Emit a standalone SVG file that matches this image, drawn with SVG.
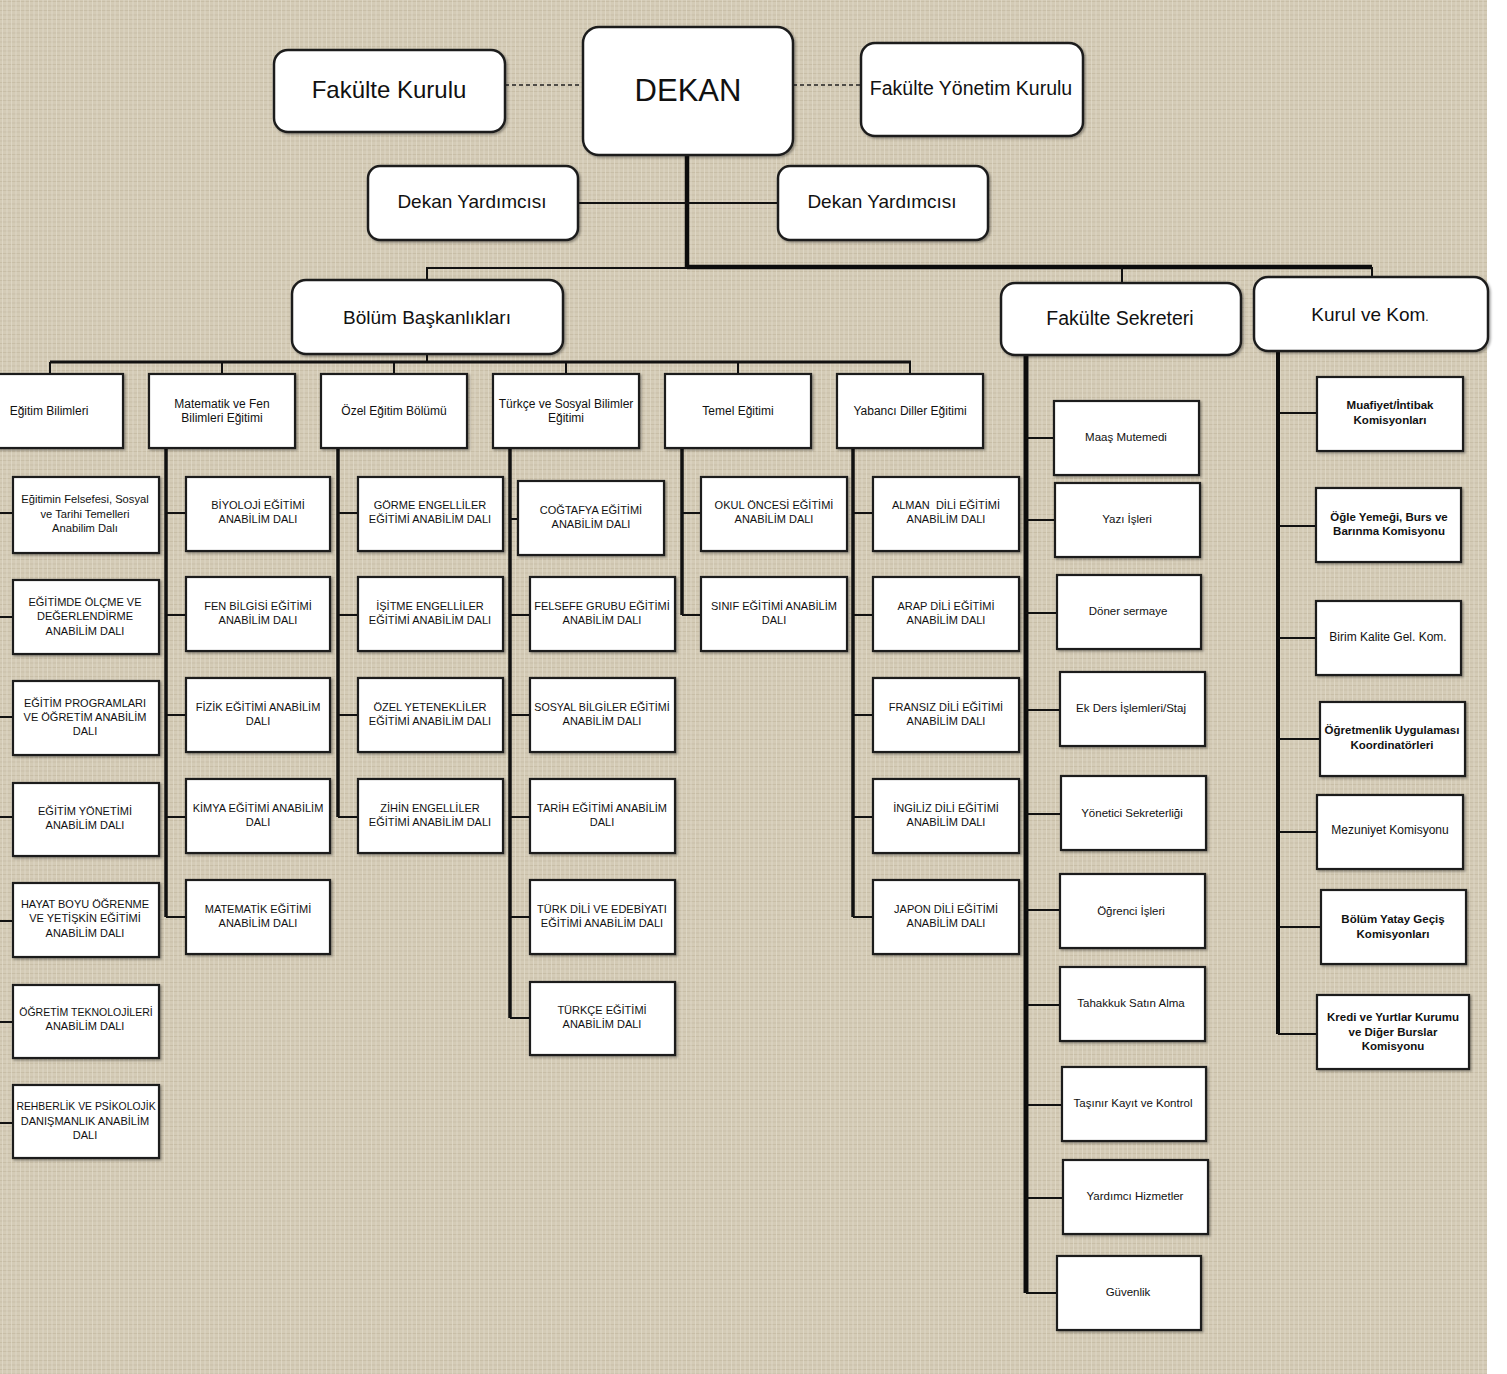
<svg xmlns="http://www.w3.org/2000/svg" width="1507" height="1374" viewBox="0 0 1507 1374">
<defs>
<pattern id="tex" width="9" height="9" patternUnits="userSpaceOnUse">
<rect width="9" height="9" fill="#d4cbb6"/>
<path d="M0 1.5H9M0 6H9" stroke="#bfb59d" stroke-width="1" opacity="0.6"/>
<path d="M2.5 0V9M7 0V9" stroke="#e4ddcc" stroke-width="1" opacity="0.65"/>
</pattern>
<filter id="sh" x="-10%" y="-10%" width="130%" height="130%">
<feDropShadow dx="1.5" dy="1.5" stdDeviation="1" flood-color="#000" flood-opacity="0.35"/>
</filter>
<style>
.rb{fill:#fff;stroke:#1e1e1e;stroke-width:2.5;filter:url(#sh)}
.bx{fill:#fff;stroke:#1e1e1e;stroke-width:2.2;filter:url(#sh)}
text{font-family:"Liberation Sans",Arial,sans-serif;text-anchor:middle;fill:#111}
.c{font-size:11px}
.h{font-size:12px}
.m{font-size:11.5px}
.b{font-size:11.5px;font-weight:bold}
.n{font-size:12px}
.ln{fill:none;stroke:#111;stroke-width:2}
.tk{fill:none;stroke:#111;stroke-width:3.5}
.th{fill:none;stroke:#0c0c0c;stroke-width:4.5}
.ds{fill:none;stroke:#222;stroke-width:1.5;stroke-dasharray:4 3}
</style>
</defs>
<rect width="1507" height="1374" fill="#fff"/>
<rect width="1487" height="1374" fill="url(#tex)"/>

<g id="connectors">
<path class="ds" d="M505 85H583M793 85H861"/>
<path class="th" d="M687 155V268"/>
<path class="ln" d="M578 203H778"/>
<path class="ln" d="M427 280V268H687"/>
<path class="th" d="M687 267H1372"/>
<path class="ln" d="M1122 267V283M1372 267V277"/>
<path class="ln" d="M427 354V362"/>
<path class="tk" d="M50 362H911" style="stroke-width:3"/>
<path class="ln" d="M50 362V374M222 362V374M394 362V374M566 362V374M738 362V374M910 362V374"/>
<path class="ln" d="M0 513H13M0 617H13M0 717H13M0 817H13M0 921H13M0 1022H13M0 1123H13"/>
<path class="tk" d="M166 448V917"/>
<path class="ln" d="M166 513H186M166 615H186M166 715H186M166 817H186M166 917H186"/>
<path class="tk" d="M338 448V817"/>
<path class="ln" d="M338 513H358M338 615H358M338 715H358M338 817H358"/>
<path class="tk" d="M510 448V1018"/>
<path class="ln" d="M510 519H518M510 615H530M510 715H530M510 817H530M510 917H530M510 1018H530"/>
<path class="tk" d="M682 448V615"/>
<path class="ln" d="M682 513H701M682 615H701"/>
<path class="tk" d="M853 448V917"/>
<path class="ln" d="M853 513H873M853 615H873M853 715H873M853 817H873M853 917H873"/>
<path class="th" d="M1026 355V1293" style="stroke-width:5"/>
<path class="ln" d="M1026 438H1054M1026 520H1055M1026 613H1057M1026 710H1060M1026 814H1061M1026 910H1060M1026 1005H1060M1026 1105H1062M1026 1198H1063M1026 1293H1057"/>
<path class="th" d="M1278 351V1034" style="stroke-width:4"/>
<path class="ln" d="M1278 413H1317M1278 526H1316M1278 638H1316M1278 739H1320M1278 832H1317M1278 927H1321M1278 1034H1317"/>
</g>

<g id="n-fakulte-kurulu"><rect class="rb" x="274" y="50" width="231" height="82" rx="14"/><text x="389" y="98" style="font-size:24px">Fakülte Kurulu</text></g>
<g id="n-dekan"><rect class="rb" x="583" y="27" width="210" height="128" rx="16"/><text x="688" y="101" style="font-size:31px">DEKAN</text></g>
<g id="n-fakulte-yonetim"><rect class="rb" x="861" y="43" width="222" height="93" rx="14"/><text x="971" y="95" style="font-size:19.5px">Fakülte Yönetim Kurulu</text></g>
<g id="n-dekan-yrd-1"><rect class="rb" x="368" y="166" width="210" height="74" rx="12"/><text x="472" y="208" style="font-size:19px">Dekan Yardımcısı</text></g>
<g id="n-dekan-yrd-2"><rect class="rb" x="778" y="166" width="210" height="74" rx="12"/><text x="882" y="208" style="font-size:19px">Dekan Yardımcısı</text></g>
<g id="n-bolum-bask"><rect class="rb" x="292" y="280" width="271" height="74" rx="14"/><text x="427" y="324" style="font-size:19px">Bölüm Başkanlıkları</text></g>
<g id="n-fakulte-sekreteri"><rect class="rb" x="1001" y="283" width="240" height="72" rx="14"/><text x="1120" y="325" style="font-size:19.5px">Fakülte Sekreteri</text></g>
<g id="n-kurul-kom"><rect class="rb" x="1254" y="277" width="234" height="74" rx="14"/><text x="1370" y="321" style="font-size:19px">Kurul ve Kom<tspan style="font-size:12px">.</tspan></text></g>

<g id="d-egitim-bilimleri"><rect class="bx" x="-2" y="374" width="125" height="74"/><text class="h" x="49" y="415">Eğitim Bilimleri</text></g>
<g id="d-matematik-fen"><rect class="bx" x="149" y="374" width="146" height="74"/><text class="h" x="222" y="408">Matematik ve Fen</text><text class="h" x="222" y="422">Bilimleri Eğitimi</text></g>
<g id="d-ozel-egitim"><rect class="bx" x="321" y="374" width="146" height="74"/><text class="h" x="394" y="415">Özel Eğitim Bölümü</text></g>
<g id="d-turkce-sosyal"><rect class="bx" x="493" y="374" width="146" height="74"/><text class="h" x="566" y="408">Türkçe ve Sosyal Bilimler</text><text class="h" x="566" y="422">Eğitimi</text></g>
<g id="d-temel"><rect class="bx" x="665" y="374" width="146" height="74"/><text class="h" x="738" y="415">Temel Eğitimi</text></g>
<g id="d-yabanci-diller"><rect class="bx" x="837" y="374" width="146" height="74"/><text class="h" x="910" y="415">Yabancı Diller Eğitimi</text></g>

<g id="eb-1"><rect class="bx" x="13" y="477" width="146" height="76"/><text class="m" x="85" y="503" style="font-size:11.2px">Eğitimin Felsefesi, Sosyal</text><text class="m" x="85" y="518" style="font-size:11.2px">ve Tarihi Temelleri</text><text class="m" x="85" y="532" style="font-size:11.2px">Anabilim Dalı</text></g>
<g id="eb-2"><rect class="bx" x="13" y="580" width="146" height="74"/><text class="c" x="85" y="606">EĞİTİMDE ÖLÇME VE</text><text class="c" x="85" y="620">DEĞERLENDİRME</text><text class="c" x="85" y="635">ANABİLİM DALI</text></g>
<g id="eb-3"><rect class="bx" x="13" y="681" width="146" height="74"/><text class="c" x="85" y="707">EĞİTİM PROGRAMLARI</text><text class="c" x="85" y="721">VE ÖĞRETİM ANABİLİM</text><text class="c" x="85" y="735">DALI</text></g>
<g id="eb-4"><rect class="bx" x="13" y="783" width="146" height="73"/><text class="c" x="85" y="815">EĞİTİM YÖNETİMİ</text><text class="c" x="85" y="829">ANABİLİM DALI</text></g>
<g id="eb-5"><rect class="bx" x="13" y="883" width="146" height="74"/><text class="c" x="85" y="908">HAYAT BOYU ÖĞRENME</text><text class="c" x="85" y="922">VE YETİŞKİN EĞİTİMİ</text><text class="c" x="85" y="937">ANABİLİM DALI</text></g>
<g id="eb-6"><rect class="bx" x="13" y="985" width="146" height="73"/><text class="c" x="86" y="1016" style="font-size:10.5px">ÖĞRETİM TEKNOLOJİLERİ</text><text class="c" x="85" y="1030">ANABİLİM DALI</text></g>
<g id="eb-7"><rect class="bx" x="13" y="1085" width="146" height="73"/><text class="c" x="86" y="1110" style="font-size:10.4px">REHBERLİK VE PSİKOLOJİK</text><text class="c" x="85" y="1125">DANIŞMANLIK ANABİLİM</text><text class="c" x="85" y="1139">DALI</text></g>

<g id="mf-1"><rect class="bx" x="186" y="477" width="144" height="74"/><text class="c" x="258" y="509">BİYOLOJİ EĞİTİMİ</text><text class="c" x="258" y="523">ANABİLİM DALI</text></g>
<g id="mf-2"><rect class="bx" x="186" y="577" width="144" height="74"/><text class="c" x="258" y="610">FEN BİLGİSİ EĞİTİMİ</text><text class="c" x="258" y="624">ANABİLİM DALI</text></g>
<g id="mf-3"><rect class="bx" x="186" y="678" width="144" height="74"/><text class="c" x="258" y="711">FİZİK EĞİTİMİ ANABİLİM</text><text class="c" x="258" y="725">DALI</text></g>
<g id="mf-4"><rect class="bx" x="186" y="779" width="144" height="74"/><text class="c" x="258" y="812">KİMYA EĞİTİMİ ANABİLİM</text><text class="c" x="258" y="826">DALI</text></g>
<g id="mf-5"><rect class="bx" x="186" y="880" width="144" height="74"/><text class="c" x="258" y="913">MATEMATİK EĞİTİMİ</text><text class="c" x="258" y="927">ANABİLİM DALI</text></g>

<g id="oe-1"><rect class="bx" x="358" y="477" width="145" height="74"/><text class="c" x="430" y="509">GÖRME ENGELLİLER</text><text class="c" x="430" y="523">EĞİTİMİ ANABİLİM DALI</text></g>
<g id="oe-2"><rect class="bx" x="358" y="577" width="145" height="74"/><text class="c" x="430" y="610">İŞİTME ENGELLİLER</text><text class="c" x="430" y="624">EĞİTİMİ ANABİLİM DALI</text></g>
<g id="oe-3"><rect class="bx" x="358" y="678" width="145" height="74"/><text class="c" x="430" y="711">ÖZEL YETENEKLİLER</text><text class="c" x="430" y="725">EĞİTİMİ ANABİLİM DALI</text></g>
<g id="oe-4"><rect class="bx" x="358" y="779" width="145" height="74"/><text class="c" x="430" y="812">ZİHİN ENGELLİLER</text><text class="c" x="430" y="826">EĞİTİMİ ANABİLİM DALI</text></g>

<g id="ts-1"><rect class="bx" x="518" y="481" width="146" height="74"/><text class="c" x="591" y="514">COĞTAFYA EĞİTİMİ</text><text class="c" x="591" y="528">ANABİLİM DALI</text></g>
<g id="ts-2"><rect class="bx" x="530" y="577" width="145" height="74"/><text class="c" x="602" y="610">FELSEFE GRUBU EĞİTİMİ</text><text class="c" x="602" y="624">ANABİLİM DALI</text></g>
<g id="ts-3"><rect class="bx" x="530" y="678" width="145" height="74"/><text class="c" x="602" y="711" style="font-size:10.7px">SOSYAL BİLGİLER EĞİTİMİ</text><text class="c" x="602" y="725">ANABİLİM DALI</text></g>
<g id="ts-4"><rect class="bx" x="530" y="779" width="145" height="74"/><text class="c" x="602" y="812">TARİH EĞİTİMİ ANABİLİM</text><text class="c" x="602" y="826">DALI</text></g>
<g id="ts-5"><rect class="bx" x="530" y="880" width="145" height="74"/><text class="c" x="602" y="913">TÜRK DİLİ VE EDEBİYATI</text><text class="c" x="602" y="927">EĞİTİMİ ANABİLİM DALI</text></g>
<g id="ts-6"><rect class="bx" x="530" y="982" width="145" height="73"/><text class="c" x="602" y="1014">TÜRKÇE EĞİTİMİ</text><text class="c" x="602" y="1028">ANABİLİM DALI</text></g>

<g id="te-1"><rect class="bx" x="701" y="477" width="146" height="74"/><text class="c" x="774" y="509">OKUL ÖNCESİ EĞİTİMİ</text><text class="c" x="774" y="523">ANABİLİM DALI</text></g>
<g id="te-2"><rect class="bx" x="701" y="577" width="146" height="74"/><text class="c" x="774" y="610">SINIF EĞİTİMİ ANABİLİM</text><text class="c" x="774" y="624">DALI</text></g>

<g id="yd-1"><rect class="bx" x="873" y="477" width="146" height="74"/><text class="c" x="946" y="509" xml:space="preserve">ALMAN  DİLİ EĞİTİMİ</text><text class="c" x="946" y="523">ANABİLİM DALI</text></g>
<g id="yd-2"><rect class="bx" x="873" y="577" width="146" height="74"/><text class="c" x="946" y="610">ARAP DİLİ EĞİTİMİ</text><text class="c" x="946" y="624">ANABİLİM DALI</text></g>
<g id="yd-3"><rect class="bx" x="873" y="678" width="146" height="74"/><text class="c" x="946" y="711">FRANSIZ DİLİ EĞİTİMİ</text><text class="c" x="946" y="725">ANABİLİM DALI</text></g>
<g id="yd-4"><rect class="bx" x="873" y="779" width="146" height="74"/><text class="c" x="946" y="812">İNGİLİZ DİLİ EĞİTİMİ</text><text class="c" x="946" y="826">ANABİLİM DALI</text></g>
<g id="yd-5"><rect class="bx" x="873" y="880" width="146" height="74"/><text class="c" x="946" y="913">JAPON DİLİ EĞİTİMİ</text><text class="c" x="946" y="927">ANABİLİM DALI</text></g>

<g id="fs-1"><rect class="bx" x="1054" y="401" width="145" height="74"/><text class="m" x="1126" y="441">Maaş Mutemedi</text></g>
<g id="fs-2"><rect class="bx" x="1055" y="483" width="145" height="74"/><text class="m" x="1127" y="523">Yazı İşleri</text></g>
<g id="fs-3"><rect class="bx" x="1057" y="575" width="144" height="74"/><text class="m" x="1128" y="615">Döner sermaye</text></g>
<g id="fs-4"><rect class="bx" x="1060" y="672" width="145" height="74"/><text class="m" x="1131" y="712">Ek Ders İşlemleri/Staj</text></g>
<g id="fs-5"><rect class="bx" x="1061" y="776" width="145" height="74"/><text class="m" x="1132" y="817">Yönetici Sekreterliği</text></g>
<g id="fs-6"><rect class="bx" x="1060" y="874" width="145" height="74"/><text class="m" x="1131" y="915">Öğrenci İşleri</text></g>
<g id="fs-7"><rect class="bx" x="1060" y="967" width="145" height="74"/><text class="m" x="1131" y="1007">Tahakkuk Satın Alma</text></g>
<g id="fs-8"><rect class="bx" x="1062" y="1067" width="144" height="74"/><text class="m" x="1133" y="1107">Taşınır Kayıt ve Kontrol</text></g>
<g id="fs-9"><rect class="bx" x="1063" y="1160" width="145" height="74"/><text class="m" x="1135" y="1200">Yardımcı Hizmetler</text></g>
<g id="fs-10"><rect class="bx" x="1057" y="1256" width="144" height="74"/><text class="m" x="1128" y="1296">Güvenlik</text></g>

<g id="kk-1"><rect class="bx" x="1317" y="377" width="146" height="74"/><text class="b" x="1390" y="409">Muafiyet/İntibak</text><text class="b" x="1390" y="424">Komisyonları</text></g>
<g id="kk-2"><rect class="bx" x="1316" y="488" width="145" height="74"/><text class="b" x="1389" y="521">Öğle Yemeği, Burs ve</text><text class="b" x="1389" y="535">Barınma Komisyonu</text></g>
<g id="kk-3"><rect class="bx" x="1316" y="601" width="145" height="74"/><text class="n" x="1388" y="641">Birim Kalite Gel. Kom.</text></g>
<g id="kk-4"><rect class="bx" x="1320" y="702" width="145" height="74"/><text class="b" x="1392" y="734">Öğretmenlik Uygulaması</text><text class="b" x="1392" y="749">Koordinatörleri</text></g>
<g id="kk-5"><rect class="bx" x="1317" y="795" width="146" height="74"/><text class="n" x="1390" y="834">Mezuniyet Komisyonu</text></g>
<g id="kk-6"><rect class="bx" x="1321" y="890" width="145" height="74"/><text class="b" x="1393" y="923">Bölüm Yatay Geçiş</text><text class="b" x="1393" y="938">Komisyonları</text></g>
<g id="kk-7"><rect class="bx" x="1317" y="995" width="152" height="74"/><text class="b" x="1393" y="1021">Kredi ve Yurtlar Kurumu</text><text class="b" x="1393" y="1036">ve Diğer Burslar</text><text class="b" x="1393" y="1050">Komisyonu</text></g>
</svg>
